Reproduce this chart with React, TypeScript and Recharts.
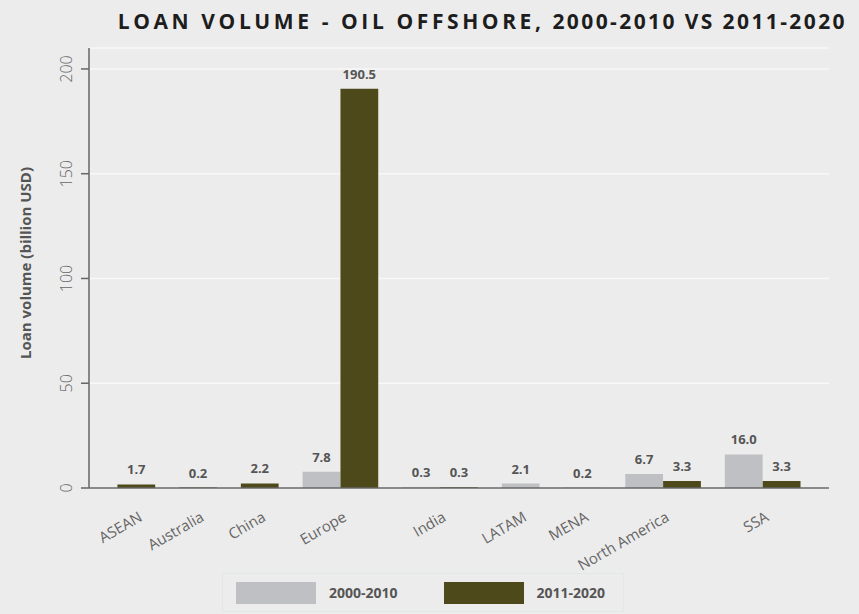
import React from 'react';
import { BarChart, Bar, XAxis, YAxis, CartesianGrid, Cell, LabelList, Label } from 'recharts';

const regions = ['ASEAN', 'Australia', 'China', 'Europe', 'India', 'LATAM', 'MENA', 'North America', 'SSA'];
const periods = ['2000-2010', '2011-2020'];
// null = no lending in that period, the region gets no slot for it
const loans2000to2010 = [null, null, null, 7.8, 0.3, 2.1, 0.2, 6.7, 16.0];
const loans2011to2020 = [1.7, 0.2, 2.2, 190.5, 0.3, null, null, 3.3, 3.3];
const yTicks = [0, 50, 100, 150, 200];

const colors = ['#bfc0c3', '#4d491b'];
const font = '"Open Sans", sans-serif';

// one slot per existing bar, regions separated by a gap (in bar widths)
const GROUP_GAP = 0.63;
const EDGE = 0.75;

type Row = { x: number; value: number; period: number };
const rows: Row[] = [];
const groupCenters: number[] = [];
let pos = 0;
regions.forEach((_, i) => {
  const start = pos;
  [loans2000to2010[i], loans2011to2020[i]].forEach((v, p) => {
    if (v == null) return;
    rows.push({ x: pos, value: v, period: p });
    pos += 1;
  });
  groupCenters.push((start + pos - 1) / 2);
  pos += GROUP_GAP;
});
const lastSlot = pos - GROUP_GAP - 1;
const xDomain = [-0.5 - EDGE, lastSlot + 0.5 + EDGE];

const W = 859;
const H = 614;
const margin = { top: 48, right: 30, left: 0, bottom: 66 };
const Y_AXIS_W = 89;
const plotW = W - margin.left - margin.right - Y_AXIS_W;
const barSize = plotW / (xDomain[1] - xDomain[0]) - 0.1;

const YTick = ({ x, y, payload }: any) => {
  const bx = x - 7;
  return (
    <text x={bx} y={y} transform={`rotate(-90 ${bx} ${y})`} textAnchor="middle"
      fontSize={16} fontWeight={300} fill="#666" fontFamily={font}>
      {payload.value}
    </text>
  );
};

const XTick = ({ x, y, payload, index }: any) => {
  const ax = x + 7;
  const ay = y + 24;
  const i = groupCenters.indexOf(payload.value);
  return (
    <text x={ax} y={ay} transform={`rotate(-30 ${ax} ${ay})`} textAnchor="end"
      fontSize={15} fontWeight={400} fill="#666" fontFamily={font}>
      {regions[i >= 0 ? i : index]}
    </text>
  );
};

const ValueLabel = ({ x, y, width, value }: any) => (
  <text x={x + width / 2} y={y - 10} textAnchor="middle" fontSize={13} fontWeight={700}
    fill="#555" fontFamily={font}>
    {Number(value).toFixed(1)}
  </text>
);

const YTitle = ({ viewBox }: any) => {
  const cy = viewBox ? viewBox.y + viewBox.height / 2 - 5 : 263;
  return (
    <text x={25} y={cy} transform={`rotate(-90 25 ${cy})`} textAnchor="middle" dominantBaseline="central"
      fontSize={15} fontWeight={700} fill="#555" fontFamily={font}>
      Loan volume (billion USD)
    </text>
  );
};

export default function App() {
  return (
    <div style={{ position: 'absolute', left: 0, top: 0, width: W, height: H, background: '#ececec', overflow: 'hidden' }}>
      <div style={{
        position: 'absolute', right: 12, top: 8, fontFamily: font, fontWeight: 700, fontSize: 21,
        lineHeight: '26px', color: '#1d1d1d', whiteSpace: 'nowrap',
      }}>
        <span style={{ letterSpacing: 3.6 }}>LOAN VOLUME - OIL OFFSHORE,</span>
        <span style={{ letterSpacing: 2.4 }}> 2000-2010 VS 2011-2020</span>
      </div>

      <BarChart width={W} height={H} data={rows} margin={margin} style={{ position: 'absolute', left: 0, top: 0 }}>
        <CartesianGrid vertical={false} stroke="#f8f8f8" strokeWidth={1.5} />
        <XAxis type="number" dataKey="x" domain={xDomain} ticks={groupCenters} interval={0}
          tickLine={false} axisLine={{ stroke: '#666', strokeWidth: 1.5 }} height={60} tick={<XTick />} />
        <YAxis type="number" domain={[0, 210]} ticks={yTicks} interval={0} width={Y_AXIS_W} tickSize={8}
          axisLine={{ stroke: '#666', strokeWidth: 1.5 }} tickLine={{ stroke: '#666', strokeWidth: 1.5 }}
          tick={<YTick />}>
          <Label content={<YTitle />} />
        </YAxis>
        <Bar dataKey="value" barSize={barSize} isAnimationActive={false}>
          {rows.map((r, i) => (
            <Cell key={`cell-${i}`} fill={colors[r.period]} />
          ))}
          <LabelList dataKey="value" content={<ValueLabel />} />
        </Bar>
      </BarChart>

      <div style={{
        position: 'absolute', left: 222, top: 573, width: 402, height: 39, boxSizing: 'border-box',
        border: '1px solid #e2e7e7', display: 'flex', alignItems: 'center', paddingLeft: 13,
        fontFamily: font, fontWeight: 700, fontSize: 14, color: '#555',
      }}>
        {periods.map((p, i) => (
          <div key={p} style={{ display: 'flex', alignItems: 'center', marginLeft: i === 0 ? 0 : 46 }}>
            <div style={{ width: 80, height: 22, background: colors[i] }} />
            <span style={{ marginLeft: 13 }}>{p}</span>
          </div>
        ))}
      </div>
    </div>
  );
}
